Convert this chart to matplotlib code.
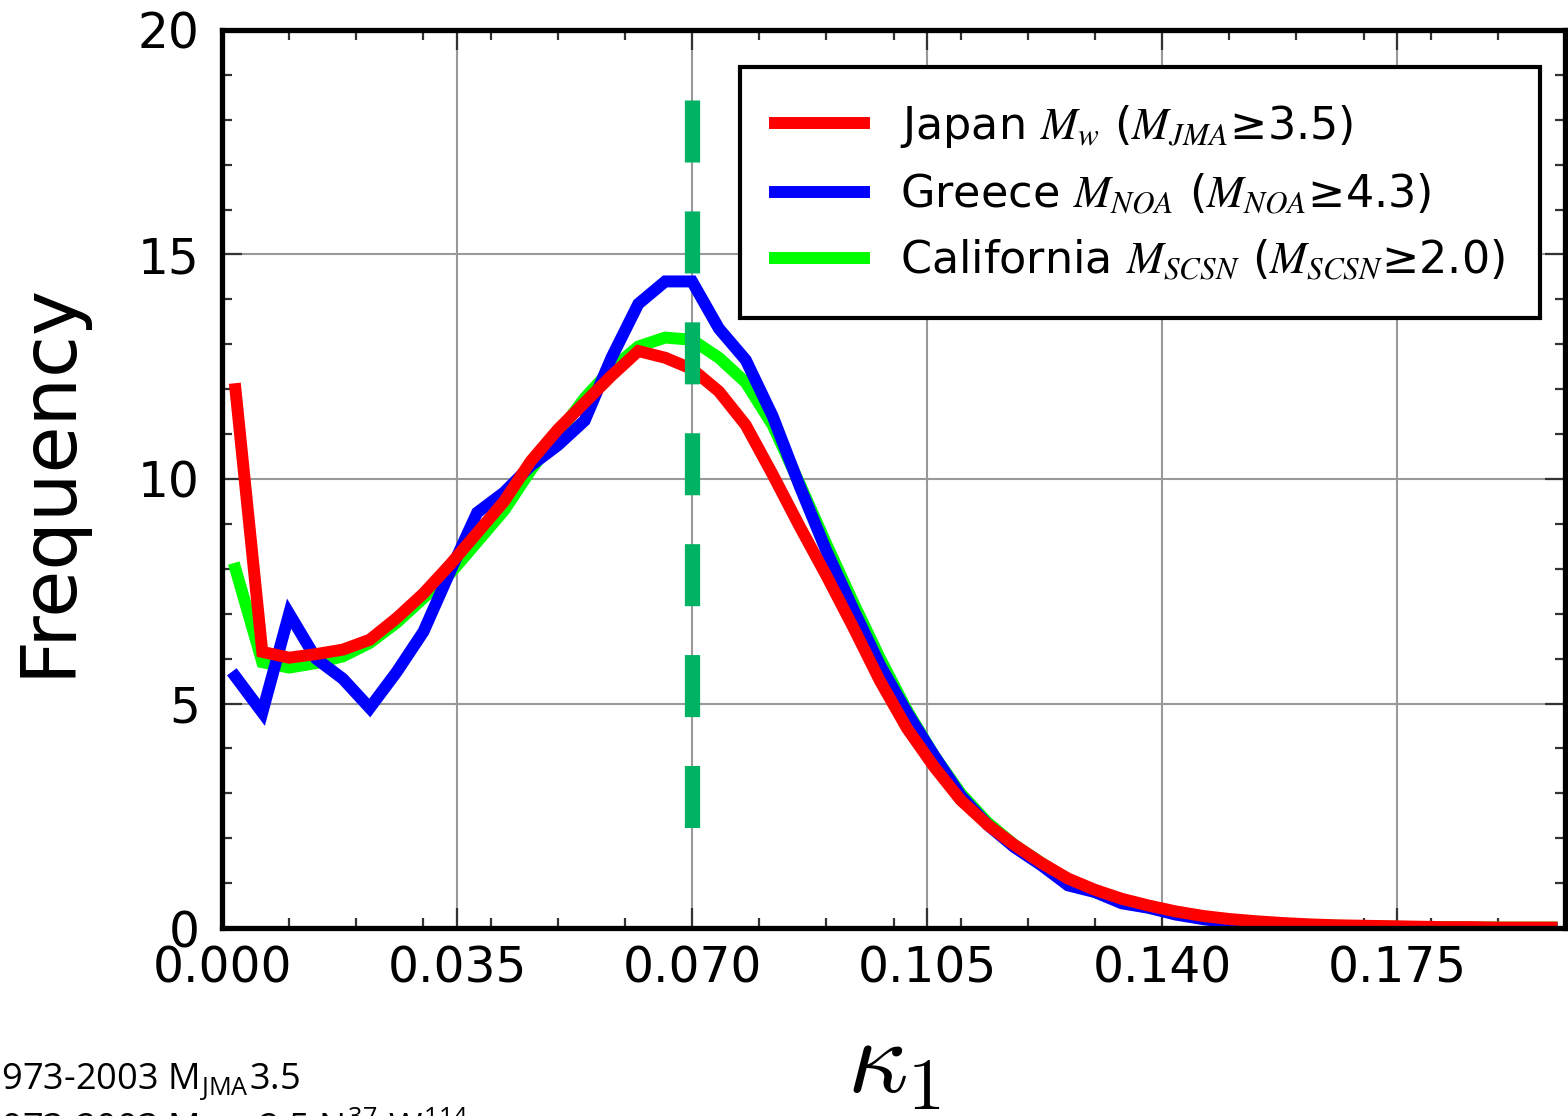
import numpy as np
import matplotlib
matplotlib.use("Agg")
from matplotlib import pyplot
from matplotlib.ticker import MultipleLocator
from matplotlib.font_manager import FontProperties

# bin centres of the kappa_1 histograms
kappa = np.arange(0.002, 0.2, 0.004)

japan = [12.0, 6.15, 6.02, 6.1, 6.2, 6.42, 6.9, 7.45, 8.1, 8.8,
         9.5, 10.4, 11.1, 11.7, 12.3, 12.85, 12.7, 12.45, 11.95, 11.2,
         10.1, 8.95, 7.85, 6.7, 5.5, 4.45, 3.6, 2.85, 2.3, 1.85,
         1.45, 1.1, 0.85, 0.65, 0.5, 0.37, 0.27, 0.2, 0.15, 0.11,
         0.08, 0.06, 0.05, 0.04, 0.03, 0.02, 0.02, 0.01, 0.01, 0.01]
greece = [5.6, 4.8, 7.0, 6.0, 5.55, 4.9, 5.7, 6.6, 7.95, 9.25,
          9.7, 10.3, 10.75, 11.3, 12.7, 13.9, 14.4, 14.4, 13.35, 12.65,
          11.4, 9.85, 8.4, 7.1, 5.85, 4.8, 3.85, 2.95, 2.3, 1.8,
          1.4, 0.95, 0.8, 0.55, 0.45, 0.3, 0.2, 0.12, 0.08, 0.05,
          0.04, 0.03, 0.02, 0.01, 0.0, 0.0, 0.0, 0.0, 0.0, 0.0]
california = [8.0, 5.92, 5.8, 5.9, 6.05, 6.35, 6.8, 7.35, 7.9, 8.6,
              9.3, 10.2, 11.0, 11.8, 12.45, 12.95, 13.15, 13.1, 12.7, 12.15,
              11.2, 9.9, 8.55, 7.25, 6.0, 4.85, 3.85, 3.0, 2.35, 1.85,
              1.45, 1.05, 0.8, 0.6, 0.45, 0.33, 0.24, 0.17, 0.12, 0.09,
              0.07, 0.05, 0.04, 0.03, 0.02, 0.02, 0.01, 0.01, 0.01, 0.01]

labels = ['Japan $M_w$ ($M_{JMA}$\u22653.5)',
          'Greece $M_{NOA}$ ($M_{NOA}$\u22654.3)',
          'California $M_{SCSN}$ ($M_{SCSN}$\u22652.0)']

kappa_ref = 0.070
ref_span = [18.44, 2.23]

x_ticks = [0.000, 0.035, 0.070, 0.105, 0.140, 0.175]

pyplot.rcParams['font.family'] = 'DejaVu Sans'
pyplot.rcParams['mathtext.fontset'] = 'cm'

fig = pyplot.figure(figsize=(15.68, 11.16), dpi=100)
ax = fig.add_axes([222 / 1568, 1 - 928 / 1116, (1565 - 222) / 1568, (928 - 30) / 1116])

lw = 8.6
l_cal, = ax.plot(kappa, california, color='#00ff00', lw=lw, solid_joinstyle='miter')
l_gre, = ax.plot(kappa, greece, color='#0000ff', lw=lw, solid_joinstyle='miter')
l_jap, = ax.plot(kappa, japan, color='#ff0000', lw=lw, solid_joinstyle='miter')

ref, = ax.plot([kappa_ref, kappa_ref], ref_span, color='#00b364', lw=11, zorder=5)
ref.set_dashes((4.06, 3.2))
ref.set_dash_capstyle('butt')

ax.set_xlim(0, 0.2)
ax.set_ylim(0, 20)
ax.set_xticks(x_ticks)
ax.set_xticklabels(['%.3f' % t for t in x_ticks])
ax.xaxis.set_minor_locator(MultipleLocator(0.01))
ax.yaxis.set_major_locator(MultipleLocator(5))
ax.yaxis.set_minor_locator(MultipleLocator(1))

ax.tick_params(which='both', direction='in', top=True, right=True,
               labelsize=35, width=1.6, color='#333333')
ax.tick_params(which='major', length=14.5)
ax.tick_params(which='minor', length=7)
ax.tick_params(axis='y', pad=16)
ax.tick_params(axis='x', pad=12)

for s in ax.spines.values():
    s.set_linewidth(3.8)

ax.grid(True, which='major', color='#999999', lw=1.5)
ax.set_axisbelow(True)

ax.set_ylabel('Frequency', fontsize=55, labelpad=38)
ax.set_xlabel(r'$\kappa_1$', fontsize=76, labelpad=14)

leg_font = FontProperties(family='DejaVu Sans', size=32, math_fontfamily='stix')
leg = ax.legend([l_jap, l_gre, l_cal], labels, loc='upper right',
                bbox_to_anchor=(0.9814, 0.9588), borderaxespad=0,
                prop=leg_font, fancybox=False, framealpha=1,
                edgecolor='black', handlelength=2.0, handletextpad=0.8,
                labelspacing=0.5, borderpad=0.8)
leg.get_frame().set_linewidth(3)

# remains of the slide text below the figure
note_font = dict(family='Open Sans', fontsize=26)
fig.text(-0.012, 1 - 1090 / 1116, '1973-2003 M$_{\\mathregular{JMA}}$3.5', **note_font)
fig.text(-0.012, 1 - 1140 / 1116,
         '1973-2003 M$_{\\mathregular{JMA}}$ 2.5 N$_{\\mathregular{lat}}^{\\mathregular{37}}$ '
         'W$_{\\mathregular{lon}}^{\\mathregular{114}}$', **note_font)

fig.savefig('out.png', dpi=100)
